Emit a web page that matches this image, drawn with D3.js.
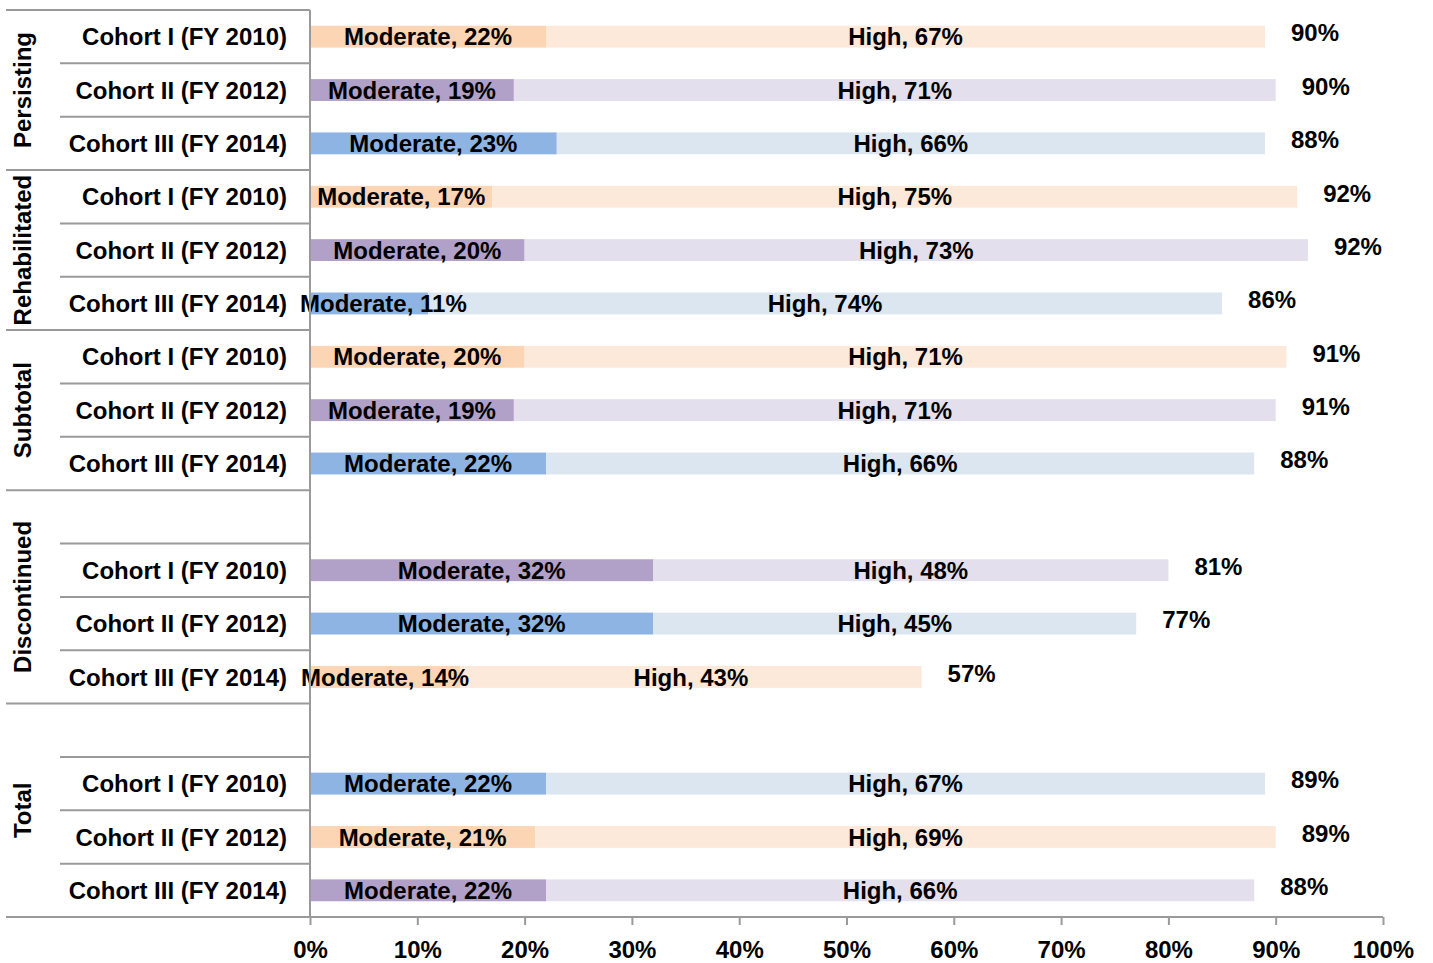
<!DOCTYPE html>
<html>
<head>
<meta charset="utf-8">
<script src="https://cdn.jsdelivr.net/npm/d3@7"></script>
<style>
  body { margin: 0; background: #fff; }
  text { font-family: 'Liberation Sans', Arial, sans-serif; font-weight: bold; fill: #000; }
</style>
</head>
<body>
<div id="chart"></div>
<script>
'use strict';

var width = 1433, height = 963;

// data
var groups = ['Persisting', 'Rehabilitated', 'Subtotal', 'Discontinued', 'Total'];
var groupHasBlank = [false, false, false, true, true];
var cohorts = ['Cohort I (FY 2010)', 'Cohort II (FY 2012)', 'Cohort III (FY 2014)'];
var moderate = [22, 19, 23, 17, 20, 11, 20, 19, 22, 32, 32, 14, 22, 21, 22];
var high     = [67, 71, 66, 75, 73, 74, 71, 71, 66, 48, 45, 43, 67, 69, 66];
var totals   = [90, 90, 88, 92, 92, 86, 91, 91, 88, 81, 77, 57, 89, 89, 88];
var palette  = ['peach', 'purple', 'blue', 'peach', 'purple', 'blue', 'peach', 'purple', 'blue',
                'purple', 'blue', 'peach', 'blue', 'peach', 'purple'];
var xTicks = [0, 10, 20, 30, 40, 50, 60, 70, 80, 90, 100];

var colors = {
  peach:  { dark: '#FCD5B4', light: '#FDE9D9' },
  purple: { dark: '#B1A0C7', light: '#E4DFEC' },
  blue:   { dark: '#8DB4E2', light: '#DCE6F1' }
};

// build slots (rows incl. blank spacer rows)
var slots = [], rows = [], groupSlots = [];
var r = 0;
groups.forEach(function(g, gi) {
  var first = slots.length;
  if (groupHasBlank[gi]) slots.push('blank-' + gi);
  cohorts.forEach(function(c) {
    var key = g + '|' + c;
    slots.push(key);
    rows.push({ key: key, group: g, cohort: c, mod: moderate[r], high: high[r], total: totals[r], color: colors[palette[r]] });
    r++;
  });
  groupSlots.push({ name: g, first: first, last: slots.length - 1 });
});

var svg = d3.select('#chart').append('svg')
  .attr('width', width)
  .attr('height', height);

var plotLeft = 310, plotRight = 1383, plotTop = 10, plotBottom = 917;
var lineColor = '#9a9a9a';

var x = d3.scaleLinear().domain([0, 100]).range([plotLeft, plotRight]);
var y = d3.scaleBand().domain(slots).range([plotTop, plotBottom]).paddingInner(0.59).paddingOuter(0.295);
var step = y.step();

// Bars
var bar = svg.selectAll('g.row')
  .data(rows)
  .enter().append('g')
  .attr('class', 'row');

bar.append('rect')
  .attr('x', x(0))
  .attr('y', function(d) { return y(d.key); })
  .attr('width', function(d) { return x(d.mod) - x(0); })
  .attr('height', y.bandwidth())
  .attr('fill', function(d) { return d.color.dark; });

bar.append('rect')
  .attr('x', function(d) { return x(d.mod); })
  .attr('y', function(d) { return y(d.key); })
  .attr('width', function(d) { return x(d.mod + d.high) - x(d.mod); })
  .attr('height', y.bandwidth())
  .attr('fill', function(d) { return d.color.light; });

var fs = 24;
var midY = function(d) { return y(d.key) + y.bandwidth() / 2; };

// moderate labels, nudged right when they would run past the axis
bar.append('text')
  .attr('y', midY)
  .attr('dy', '0.36em')
  .attr('text-anchor', 'middle')
  .style('font-size', fs + 'px')
  .text(function(d) { return 'Moderate, ' + d.mod + '%'; })
  .attr('x', function(d) {
    var half = this.getComputedTextLength() / 2;
    return Math.max(x(d.mod / 2), plotLeft - 10 + half);
  });

bar.append('text')
  .attr('x', function(d) { return x(d.mod + d.high / 2); })
  .attr('y', midY)
  .attr('dy', '0.36em')
  .attr('text-anchor', 'middle')
  .style('font-size', fs + 'px')
  .text(function(d) { return 'High, ' + d.high + '%'; });

bar.append('text')
  .attr('x', function(d) { return x(d.mod + d.high) + 26; })
  .attr('y', midY)
  .attr('dy', '0.2em')
  .style('font-size', fs + 'px')
  .text(function(d) { return d.total + '%'; });

// Category labels
bar.append('text')
  .attr('x', 287)
  .attr('y', midY)
  .attr('dy', '0.36em')
  .attr('text-anchor', 'end')
  .style('font-size', fs + 'px')
  .text(function(d) { return d.cohort; });

// Separator lines between slots
var seps = [];
slots.forEach(function(s, i) { seps.push({ yv: plotTop + i * step, groupEdge: false }); });
groupSlots.forEach(function(g) { seps[g.first].groupEdge = true; });

svg.selectAll('line.sep')
  .data(seps)
  .enter().append('line')
  .attr('class', 'sep')
  .attr('x1', function(d) { return d.groupEdge ? 6 : 60; })
  .attr('x2', plotLeft)
  .attr('y1', function(d) { return d.yv; })
  .attr('y2', function(d) { return d.yv; })
  .attr('stroke', lineColor)
  .attr('stroke-width', 2);

// Group labels (rotated)
svg.selectAll('text.group')
  .data(groupSlots)
  .enter().append('text')
  .attr('class', 'group')
  .attr('transform', function(g) {
    var cy = plotTop + (g.first + g.last + 1) / 2 * step;
    return 'translate(22,' + cy + ') rotate(-90)';
  })
  .attr('dy', '0.36em')
  .attr('text-anchor', 'middle')
  .style('font-size', fs + 'px')
  .text(function(g) { return g.name; });

// Vertical axis line
svg.append('line')
  .attr('x1', plotLeft).attr('x2', plotLeft)
  .attr('y1', plotTop).attr('y2', plotBottom)
  .attr('stroke', lineColor)
  .attr('stroke-width', 2);

// Bottom axis
svg.append('line')
  .attr('x1', 6).attr('x2', plotRight)
  .attr('y1', plotBottom).attr('y2', plotBottom)
  .attr('stroke', lineColor)
  .attr('stroke-width', 2);

var xAxis = d3.axisBottom(x)
  .tickValues(xTicks)
  .tickSize(8)
  .tickPadding(16)
  .tickFormat(function(d) { return d + '%'; });

var gx = svg.append('g')
  .attr('transform', 'translate(0,' + plotBottom + ')')
  .call(xAxis);

gx.select('.domain').remove();
gx.selectAll('.tick line').attr('stroke', lineColor).attr('stroke-width', 2);
gx.selectAll('.tick text')
  .style('font-size', fs + 'px')
  .style('font-family', "'Liberation Sans', Arial, sans-serif")
  .style('font-weight', 'bold')
  .attr('fill', '#000');
</script>
</body>
</html>
